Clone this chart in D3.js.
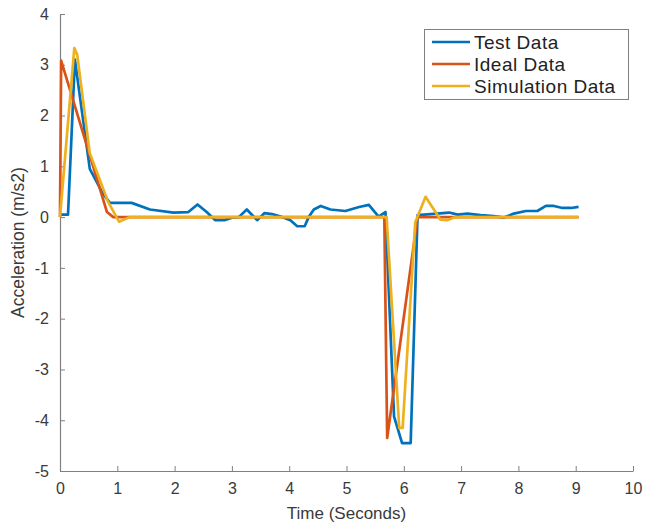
<!DOCTYPE html>
<html>
<head>
<meta charset="utf-8">
<script src="https://cdn.jsdelivr.net/npm/d3@7"></script>
<style>
  html, body { margin: 0; padding: 0; background: #ffffff; }
  svg { display: block; }
  text { font-family: "Liberation Sans", Arial, Helvetica, sans-serif; }
</style>
</head>
<body>
<script>
// Acceleration traces: measured, ideal and simulated
const testT = [0, 0.14, 0.26, 0.52, 0.73, 0.87, 1.25, 1.57, 1.98, 2.24, 2.4, 2.56, 2.71, 2.87, 3.0, 3.12, 3.26, 3.44, 3.57, 3.7, 3.85, 4.02, 4.14, 4.27, 4.34, 4.43, 4.55, 4.72, 4.98, 5.22, 5.39, 5.56, 5.68, 5.83, 5.97, 6.12, 6.24, 6.58, 6.79, 6.94, 7.11, 7.34, 7.57, 7.75, 7.92, 8.13, 8.33, 8.48, 8.62, 8.77, 8.92, 9.05];
const testV = [0.05, 0.05, 3.1, 0.95, 0.5, 0.28, 0.28, 0.15, 0.09, 0.1, 0.25, 0.1, -0.06, -0.06, -0.01, 0, 0.15, -0.06, 0.08, 0.06, 0.01, -0.06, -0.18, -0.18, 0, 0.15, 0.22, 0.15, 0.12, 0.2, 0.24, 0.01, 0.1, -3.93, -4.45, -4.45, 0.04, 0.07, 0.09, 0.05, 0.07, 0.04, 0.02, -0.01, 0.07, 0.12, 0.12, 0.22, 0.22, 0.18, 0.18, 0.2];

const idealT = [0, 0.02, 0.82, 0.93, 5.66, 5.71, 6.24, 9.05];
const idealV = [0, 3.08, 0.1, 0, 0, -4.35, 0, 0];

const simT = [0, 0.25, 0.3, 0.52, 0.84, 1.03, 1.22, 5.7, 5.92, 5.98, 6.2, 6.38, 6.64, 6.76, 6.9, 9.05];
const simV = [0, 3.33, 3.2, 1.26, 0.3, -0.09, 0, 0, -4.15, -4.15, -0.1, 0.4, -0.05, -0.06, 0, 0];

const seriesNames = ["Test Data", "Ideal Data", "Simulation Data"];
const seriesColors = ["#0072BD", "#D95319", "#EDB120"];

const xTicks = [0, 1, 2, 3, 4, 5, 6, 7, 8, 9, 10];
const yTicks = [-5, -4, -3, -2, -1, 0, 1, 2, 3, 4];

const W = 647, H = 527;
const plot = { left: 60, right: 633, top: 14, bottom: 471 };

const svg = d3.select("body").append("svg")
  .attr("width", W).attr("height", H);

const x = d3.scaleLinear().domain([0, 10]).range([plot.left, plot.right]);
const y = d3.scaleLinear().domain([-5, 4]).range([plot.bottom, plot.top]);

const axisColor = "#808080";
const textColor = "#3a3a3a";
// plain hyphen for negative tick labels
const fmt = d => String(d);

// Axes with inward ticks
const xAxis = svg.append("g")
  .attr("transform", `translate(0,${plot.bottom})`)
  .call(d3.axisBottom(x).tickValues(xTicks).tickSize(-5).tickSizeOuter(0).tickPadding(12).tickFormat(fmt));
const yAxis = svg.append("g")
  .attr("transform", `translate(${plot.left},0)`)
  .call(d3.axisLeft(y).tickValues(yTicks).tickSize(-5).tickSizeOuter(0).tickPadding(11).tickFormat(fmt));

[xAxis, yAxis].forEach(g => {
  g.select(".domain").attr("stroke", axisColor).attr("stroke-width", 1.2);
  g.selectAll(".tick line").attr("stroke", axisColor).attr("stroke-width", 1);
  g.selectAll(".tick text").attr("fill", textColor).style("font-size", "16px");
});

// Axis titles
svg.append("text")
  .attr("x", x(5)).attr("y", 519)
  .attr("text-anchor", "middle")
  .attr("fill", textColor)
  .style("font-size", "17px")
  .text("Time (Seconds)");

svg.append("text")
  .attr("transform", `translate(24,${y(-0.5)}) rotate(-90)`)
  .attr("text-anchor", "middle")
  .attr("fill", textColor)
  .style("font-size", "17.5px")
  .text("Acceleration (m/s2)");

// Lines
const series = [
  { t: testT, v: testV },
  { t: idealT, v: idealV },
  { t: simT, v: simV }
];
const line = d3.line().x(d => x(d[0])).y(d => y(d[1]));
series.forEach((s, i) => {
  const pts = s.t.map((t, j) => [t, s.v[j]]);
  svg.append("path")
    .datum(pts)
    .attr("d", line)
    .attr("fill", "none")
    .attr("stroke", seriesColors[i])
    .attr("stroke-width", 2.7)
    .attr("stroke-linejoin", "round");
});

// Legend
const lg = svg.append("g");
lg.append("rect")
  .attr("x", 424.5).attr("y", 29.5)
  .attr("width", 204).attr("height", 70)
  .attr("fill", "#ffffff")
  .attr("stroke", "#808080")
  .attr("stroke-width", 1);
seriesNames.forEach((name, i) => {
  const cy = 42 + i * 22;
  lg.append("line")
    .attr("x1", 432).attr("x2", 470)
    .attr("y1", cy).attr("y2", cy)
    .attr("stroke", seriesColors[i])
    .attr("stroke-width", 2.7);
  lg.append("text")
    .attr("x", 474).attr("y", cy + 6.5)
    .attr("fill", "#222222")
    .style("font-size", "19px")
    .style("letter-spacing", "0.5px")
    .text(name);
});
</script>
</body>
</html>
